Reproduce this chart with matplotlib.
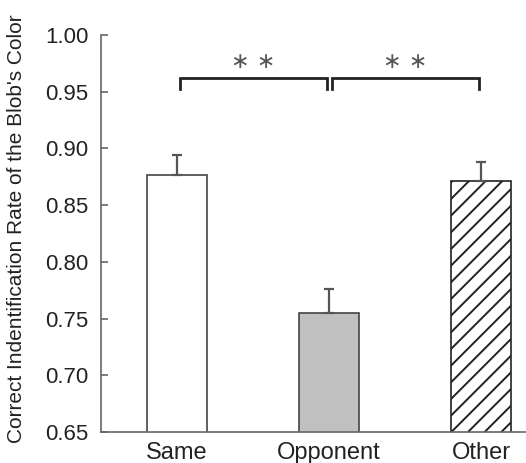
import matplotlib
matplotlib.use("Agg")
import matplotlib.pyplot as plt

plt.rcParams['font.family'] = ['Liberation Sans', 'DejaVu Sans']
plt.rcParams['hatch.linewidth'] = 1.4

conditions = ["Same", "Opponent", "Other"]
rates = [0.877, 0.755, 0.871]
errors = [0.017, 0.021, 0.017]
fills = ["white", "#c0c0c0", "white"]
edges = ["#444444", "#444444", "#222222"]
hatches = ["", "", "//"]
yticks = [0.65, 0.70, 0.75, 0.80, 0.85, 0.90, 0.95, 1.00]
comparisons = [(0, 1, "\u2217 \u2217"), (1, 2, "\u2217 \u2217")]

W, H = 526, 463
fig = plt.figure(figsize=(W / 100, H / 100), dpi=100)
ax = fig.add_axes([101 / W, 1 - 432 / H, 1 - 101 / W + 0.01, (432 - 35) / H])

x = list(range(len(conditions)))
ax.bar(x, rates, width=0.4, color=fills, edgecolor=edges, linewidth=1.2,
       hatch=hatches, zorder=2)
ax.errorbar(x, rates, yerr=[[0] * len(errors), errors], fmt="none",
            ecolor="#555555", elinewidth=1.6, capsize=3.5, capthick=1.6, zorder=3)

# significance brackets
y_top, y_drop = 0.962, 0.952
for i, j, label in comparisons:
    xa, xb = i + 0.02, j - 0.015
    ax.plot([xa, xa, xb, xb], [y_drop, y_top, y_top, y_drop], color="#222222",
            lw=2.0, solid_joinstyle="miter", zorder=3)
    ax.text((xa + xb) / 2, 0.967, label, ha="center", va="bottom",
            fontsize=16, color="#555555", family=['DejaVu Sans'])

ax.set_ylim(0.65, 1.0)
ax.set_xlim(-0.5, 2.33)
ax.set_yticks(yticks)
ax.set_yticklabels([f"{t:.2f}" for t in yticks])
ax.set_xticks(x)
ax.set_xticklabels(conditions)
ax.tick_params(axis="y", direction="in", length=5, width=1.2, color="#666666",
               labelsize=16, labelcolor="#222222", pad=9)
ax.tick_params(axis="x", length=0, labelsize=17, labelcolor="#222222", pad=7)

for side in ("top", "right"):
    ax.spines[side].set_visible(False)
for side in ("left", "bottom"):
    ax.spines[side].set_color("#666666")
    ax.spines[side].set_linewidth(1.2)

fig.text(17 / W, 1 - 228.5 / H, "Correct Indentification Rate of the Blob's Color",
         rotation=90, ha="center", va="center", fontsize=15, color="#222222")

fig.savefig("out.png", dpi=100)
